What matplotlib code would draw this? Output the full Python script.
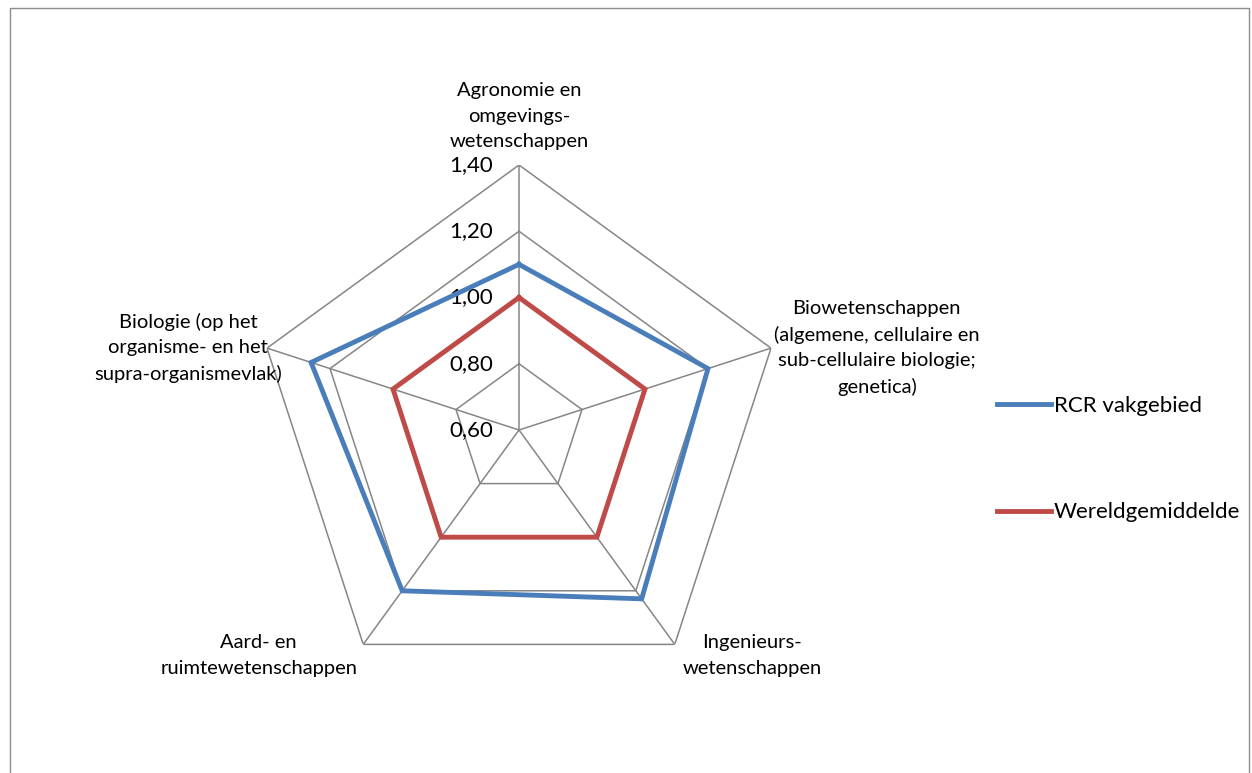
import numpy as np
import matplotlib
matplotlib.use('Agg')
import matplotlib.pyplot as plt
from matplotlib.patches import Rectangle
from matplotlib.transforms import offset_copy

plt.rcParams['font.family'] = ['Lato', 'DejaVu Sans']

categories = [
    'Agronomie en\nomgevings-\nwetenschappen',
    'Biowetenschappen\n(algemene, cellulaire en\nsub-cellulaire biologie;\ngenetica)',
    'Ingenieurs-\nwetenschappen',
    'Aard- en\nruimtewetenschappen',
    'Biologie (op het\norganisme- en het\nsupra-organismevlak)',
]
rcr = [1.10, 1.20, 1.23, 1.20, 1.26]
world = [1.00, 1.00, 1.00, 1.00, 1.00]
rings = [0.60, 0.80, 1.00, 1.20, 1.40]
ring_labels = ['0,60', '0,80', '1,00', '1,20', '1,40']

W, H = 1252, 773
fig = plt.figure(figsize=(W / 100, H / 100), dpi=100)

# outer chart border
fig.patches.append(Rectangle((10 / W, -0.05), 1239 / W, 1.05 - 8 / H,
                             transform=fig.transFigure, fill=False,
                             edgecolor='#8c8c8c', linewidth=1.0))

cx, cy, R = 519, 430, 265
ax = fig.add_axes([(cx - R) / W, (H - cy - R) / H, 2 * R / W, 2 * R / H],
                  projection='polar')
ax.set_theta_zero_location('N')
ax.set_theta_direction(-1)
ax.set_ylim(rings[0], rings[-1])
ax.grid(False)
ax.spines['polar'].set_visible(False)
ax.set_xticks([])
ax.set_yticks([])
ax.patch.set_alpha(0)

n = len(categories)
theta = np.linspace(0, 2 * np.pi, n, endpoint=False)
closed = np.append(theta, theta[0])

grid_kw = dict(color='#868686', linewidth=1.1, zorder=1)
for r in rings:
    ax.plot(closed, [r] * (n + 1), **grid_kw)
for t in theta:
    ax.plot([t, t], [rings[0], rings[-1]], **grid_kw)

ax.plot(closed, world + world[:1], color='#BE4B48', linewidth=3.5,
        label='Wereldgemiddelde', zorder=3, solid_joinstyle='miter')
ax.plot(closed, rcr + rcr[:1], color='#4A7EBB', linewidth=3.5,
        label='RCR vakgebied', zorder=4, solid_joinstyle='miter')

# radial value labels along the top axis
lab_tr = offset_copy(ax.transData, fig=fig, x=-26, y=0, units='dots')
for r, s in zip(rings, ring_labels):
    ax.text(0, r, s, transform=lab_tr, ha='right', va='center',
            fontsize=16, color='#000000')

# category labels
placements = [
    (0, 15, 'center', 'bottom'),
    (3, 0, 'left', 'center'),
    (8, 10, 'left', 'top'),
    (-6, 10, 'right', 'top'),
    (15, 0, 'right', 'center'),
]
for t, lab, (dx, dy, ha, va) in zip(theta, categories, placements):
    tr = offset_copy(ax.transData, fig=fig, x=dx, y=dy, units='dots')
    ax.text(t, rings[-1], lab, transform=tr, ha=ha, va=va,
            multialignment='center', fontsize=14.5, linespacing=1.6)

handles, labels = ax.get_legend_handles_labels()
fig.legend(handles[::-1], labels[::-1], loc='center left',
           bbox_to_anchor=(997 / W, 1 - 459 / H), frameon=False,
           fontsize=16, handlelength=2.45, handletextpad=0.12,
           labelspacing=3.9, borderpad=0, borderaxespad=0)

fig.savefig('out.png', dpi=100)
